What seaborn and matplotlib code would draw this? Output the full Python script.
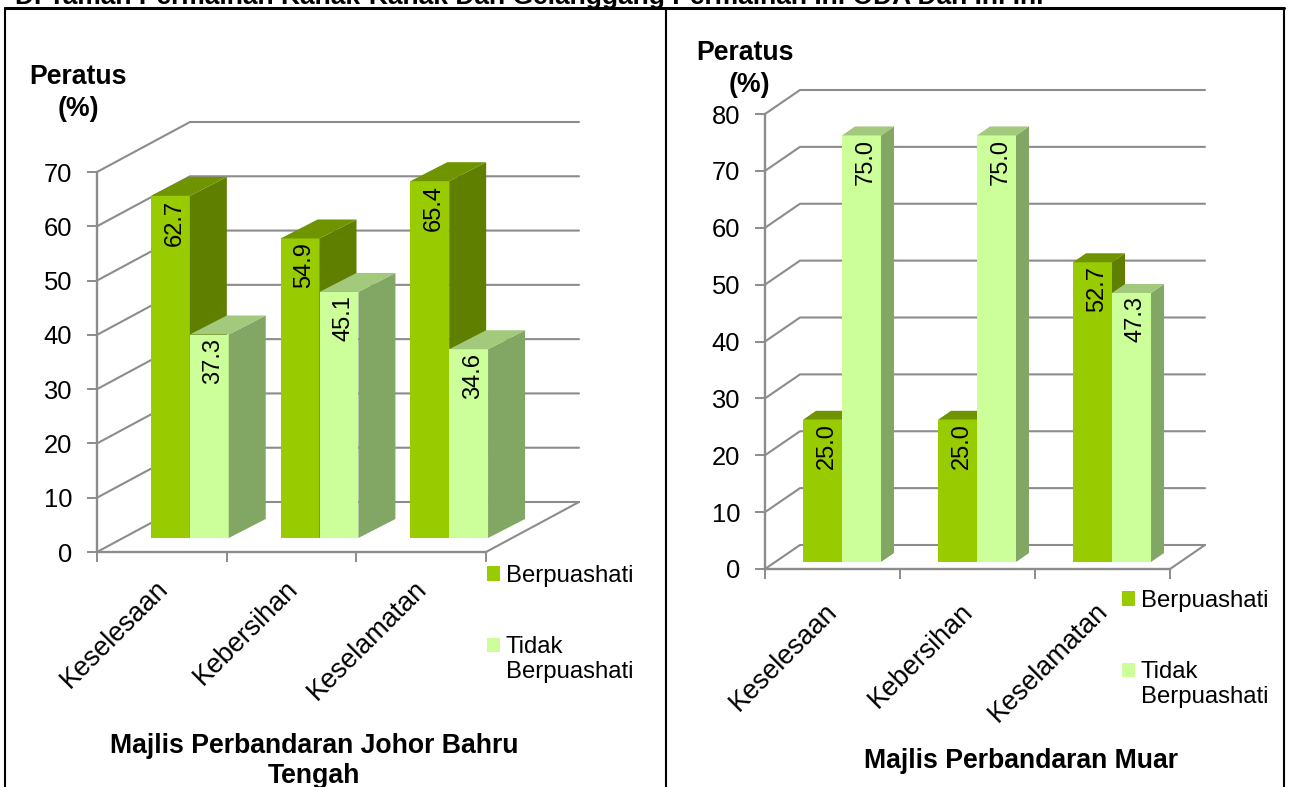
import matplotlib
matplotlib.use("Agg")
import matplotlib.pyplot as plt
from matplotlib.lines import Line2D
from matplotlib.patches import Patch, Polygon
from matplotlib.transforms import IdentityTransform
import pandas as pd
import seaborn as sns

categories = ["Keselesaan", "Kebersihan", "Keselamatan"]
series_names = ["Berpuashati", "Tidak\nBerpuashati"]
jb_satisfied = [62.7, 54.9, 65.4]
jb_unsatisfied = [37.3, 45.1, 34.6]
muar_satisfied = [25.0, 25.0, 52.7]
muar_unsatisfied = [75.0, 75.0, 47.3]
jb_ticks = [0, 10, 20, 30, 40, 50, 60, 70]
muar_ticks = [0, 10, 20, 30, 40, 50, 60, 70, 80]
header = "D. Taman Permainan Kanak-Kanak Dan Gelanggang Permainan Ini ODA Dan Ini Ini"

W, H = 1291, 787
FONT = "Liberation Sans"
GRAY = "#8C8C8C"
FRONT = ["#99CC00", "#CCFF99"]
SIDE = ["#5F7F00", "#82A663"]
TOP = ["#6F9400", "#A3C97C"]

sns.set_style("white")
plt.rcParams["font.family"] = [FONT, "DejaVu Sans"]
plt.rcParams["text.color"] = "black"
plt.rcParams["axes.labelcolor"] = "black"
plt.rcParams["xtick.labelcolor"] = "black"
plt.rcParams["ytick.labelcolor"] = "black"
fig = plt.figure(figsize=(W / 100, H / 100), dpi=100, facecolor="white")
pxT = IdentityTransform()


def axes_rect(x0, x1, ytop, ybot):
    return [x0 / W, 1 - ybot / H, (x1 - x0) / W, (ybot - ytop) / H]


def panel(sat, unsat, ticks, x0, x1, ytop, ybot, wall, shift, bar_w, depth, label_pad,
          label_shift, bar_scale, leg_xy):
    ymax = ticks[-1]
    ax = fig.add_axes(axes_rect(x0, x1, ytop, ybot))
    ax.patch.set_alpha(0)
    ax.set_xlim(-0.5, 2.5)
    ax.set_ylim(0, ymax)
    sns.despine(ax=ax)
    for s in ("left", "bottom"):
        ax.spines[s].set_color(GRAY)
        ax.spines[s].set_linewidth(1.7)
    ax.set_yticks(ticks)
    ax.set_xticks([-0.5, 0.5, 1.5, 2.5])
    ax.set_xticklabels([])
    ax.set_xticks([i + label_shift for i in range(3)], minor=True)
    ax.set_xticklabels(categories, minor=True, rotation=45, ha="right", va="top",
                       rotation_mode="anchor", fontsize=19.4)
    ax.tick_params(axis="x", which="major", length=7, width=1.4, color=GRAY, bottom=True)
    ax.tick_params(axis="x", which="minor", length=0, pad=label_pad, bottom=True)
    ax.tick_params(axis="y", length=7, width=1.4, color=GRAY, labelsize=18.4, left=True, pad=11)

    # Receding wall and floor, derived from the axis scale
    to_px = ax.transData.transform
    wx, wy = wall
    for t in ticks:
        px, py = to_px((-0.5, t))
        qx, qy = to_px((2.5, t))
        ax.add_line(Line2D([px, px + wx, qx + wx], [py, py + wy, py + wy], color=GRAY,
                           lw=1.5, transform=pxT, clip_on=False, zorder=1))
    px, py = to_px((2.5, 0))
    ax.add_line(Line2D([px, px + wx], [py, py + wy], color=GRAY, lw=1.5,
                       transform=pxT, clip_on=False, zorder=1))

    # Bars sit part-way back on the floor
    sx, sy = shift
    base = ybot - sy
    height = (ybot - ytop) * bar_scale
    bx = fig.add_axes(axes_rect(x0 + sx, x1 + sx, base - height, base))
    bx.patch.set_alpha(0)
    df = pd.DataFrame({
        "Kategori": categories * 2,
        "Peratus": list(sat) + list(unsat),
        "Status": [series_names[0]] * 3 + [series_names[1]] * 3,
    })
    sns.barplot(data=df, x="Kategori", y="Peratus", hue="Status", palette=FRONT, saturation=1,
                width=bar_w, gap=0, dodge=True, legend=False, ax=bx, linewidth=0)
    bx.set_xlim(-0.5, 2.5)
    bx.set_ylim(0, ymax)
    bx.axis("off")

    dx, dy = depth
    for j, cont in enumerate(bx.containers):
        for rect in cont.patches:
            rect.set_zorder(3 + j)
            (a, b), (c, d) = bx.transData.transform(
                [(rect.get_x(), 0), (rect.get_x() + rect.get_width(), rect.get_height())])
            bx.add_patch(Polygon([(c, b), (c + dx, b + dy), (c + dx, d + dy), (c, d)],
                                 fc=SIDE[j], ec="none", transform=pxT, clip_on=False, zorder=3 + j))
            bx.add_patch(Polygon([(a, d), (c, d), (c + dx, d + dy), (a + dx, d + dy)],
                                 fc=TOP[j], ec="none", transform=pxT, clip_on=False, zorder=3 + j))
        labels = bx.bar_label(cont, fmt="%.1f", rotation=90, padding=-2.5, fontsize=17, color="black")
        for t in labels:
            t.set_ha("center")
            t.set_va("top")
            t.set_zorder(10)
            t.set_clip_on(False)
            t.xyann = (3, -2.5)

    handles = [Patch(fc=FRONT[i], ec="none", label=series_names[i]) for i in range(2)]
    leg = fig.legend(handles=handles, loc="upper left",
                     bbox_to_anchor=(leg_xy[0] / W, 1 - leg_xy[1] / H),
                     frameon=False, fontsize=17.2, handlelength=0.54, handleheight=0.54,
                     handletextpad=0.24, labelspacing=2.05, borderpad=0, borderaxespad=0)
    # The swatch of the two-line entry lines up with its first line
    swatch = leg.get_patches()[1]
    swatch.set_y(swatch.get_y() + 10.8)


panel(jb_satisfied, jb_unsatisfied, jb_ticks, 97, 486, 172, 552,
      wall=(93, 50), shift=(28, 14), bar_w=0.6, depth=(37, 19), label_pad=17,
      label_shift=-0.054, bar_scale=1.005, leg_xy=(487, 565))
panel(muar_satisfied, muar_unsatisfied, muar_ticks, 765, 1170, 114, 569,
      wall=(35, 24), shift=(9.5, 7), bar_w=0.578, depth=(13, 9), label_pad=21,
      label_shift=-0.06, bar_scale=1.0, leg_xy=(1122, 590))


def label(x, y, s, **kw):
    fig.text(x / W, 1 - y / H, s, ha="center", va="center", fontweight="bold", fontsize=19.2, **kw)


label(78, 77, "Peratus")
label(78, 109, "(%)")
label(745, 53, "Peratus")
label(749, 85, "(%)")
label(314, 746, "Majlis Perbandaran Johor Bahru")
label(314, 776, "Tengah")
label(1021, 761, "Majlis Perbandaran Muar")
fig.text(15 / W, 1 - 4 / H, header, ha="left", va="baseline", fontweight="bold", fontsize=19)

# Page frame
for xs, ys, lw in [((5, 1284), (8, 8), 2.2), ((5, 5), (8, 787), 1.5),
                   ((666, 666), (8, 787), 1.5), ((1284, 1284), (8, 787), 1.5)]:
    fig.add_artist(Line2D([x / W for x in xs], [1 - y / H for y in ys], color="black", lw=lw))

fig.savefig("out.png", dpi=100, facecolor="white")
